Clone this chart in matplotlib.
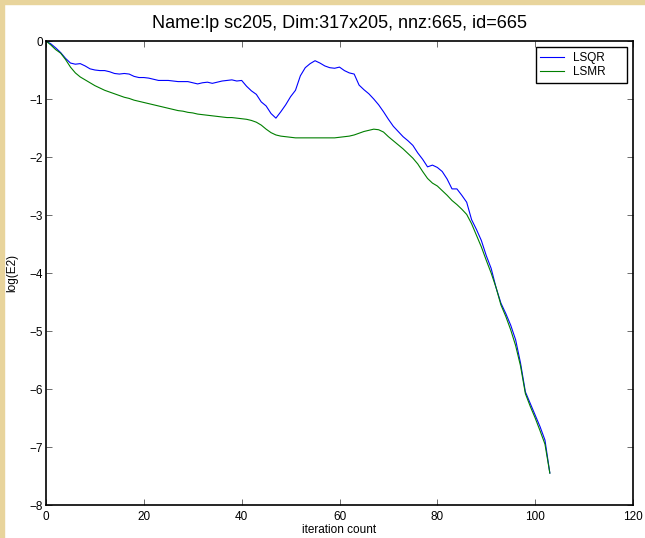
import matplotlib
matplotlib.use("Agg")
import matplotlib.pyplot as plt
from matplotlib.patches import Rectangle

plt.rcParams['font.family'] = ['Liberation Sans', 'DejaVu Sans']

# log10 of the error at each iteration
lsqr = [0, -0.05, -0.12, -0.20, -0.30, -0.38, -0.40, -0.39, -0.43, -0.48,
        -0.50, -0.51, -0.51, -0.53, -0.56, -0.57, -0.56, -0.57, -0.61, -0.63,
        -0.63, -0.64, -0.66, -0.68, -0.68, -0.68, -0.69, -0.70, -0.70, -0.70,
        -0.72, -0.74, -0.72, -0.71, -0.73, -0.71, -0.69, -0.68, -0.67, -0.69,
        -0.68, -0.78, -0.86, -0.92, -1.05, -1.12, -1.25, -1.33, -1.22, -1.10,
        -0.96, -0.85, -0.60, -0.46, -0.39, -0.34, -0.38, -0.43, -0.46, -0.47,
        -0.45, -0.51, -0.55, -0.57, -0.76, -0.84, -0.91, -1.00, -1.10, -1.22,
        -1.35, -1.47, -1.56, -1.65, -1.72, -1.80, -1.93, -2.04, -2.17, -2.14,
        -2.18, -2.25, -2.38, -2.55, -2.55, -2.66, -2.78, -3.08, -3.25, -3.44,
        -3.70, -3.92, -4.25, -4.52, -4.70, -4.90, -5.15, -5.55, -6.05, -6.25,
        -6.45, -6.65, -6.88, -7.45]
lsmr = [0, -0.07, -0.15, -0.21, -0.32, -0.45, -0.55, -0.62, -0.67, -0.72,
        -0.77, -0.81, -0.85, -0.88, -0.91, -0.94, -0.97, -0.99, -1.02, -1.04,
        -1.06, -1.08, -1.10, -1.12, -1.14, -1.16, -1.18, -1.20, -1.21, -1.23,
        -1.24, -1.26, -1.27, -1.28, -1.29, -1.30, -1.31, -1.32, -1.32, -1.33,
        -1.34, -1.35, -1.37, -1.40, -1.45, -1.52, -1.58, -1.62, -1.64, -1.65,
        -1.66, -1.67, -1.67, -1.67, -1.67, -1.67, -1.67, -1.67, -1.67, -1.67,
        -1.66, -1.65, -1.64, -1.62, -1.59, -1.56, -1.54, -1.52, -1.53, -1.57,
        -1.65, -1.72, -1.79, -1.86, -1.94, -2.02, -2.12, -2.25, -2.37, -2.45,
        -2.50, -2.58, -2.66, -2.75, -2.82, -2.90, -2.99, -3.15, -3.35, -3.55,
        -3.78, -4.00, -4.25, -4.55, -4.75, -4.98, -5.25, -5.60, -6.08, -6.30,
        -6.50, -6.72, -6.95, -7.45]
iters = list(range(len(lsqr)))

fig = plt.figure(figsize=(6.45, 5.38), dpi=100)
# tan frame along the left and top edges
fig.patches.append(Rectangle((0, 0), 3.5 / 645, 1, transform=fig.transFigure,
                             color='#e8d49c', zorder=0))
fig.patches.append(Rectangle((0, 1 - 4 / 538), 1, 4 / 538, transform=fig.transFigure,
                             color='#e8d49c', zorder=0))

ax = fig.add_axes([46 / 645, 33 / 538, 587 / 645, 464 / 538])
ax.plot(iters, lsqr, color='#0000ff', lw=0.8, label='LSQR')
ax.plot(iters, lsmr, color='#007f00', lw=0.8, label='LSMR')

ax.set_xlim(0, 120)
ax.set_ylim(-8, 0)
ax.set_xticks(range(0, 121, 20))
ax.set_yticks(range(-8, 1))
ax.tick_params(direction='in', top=True, right=True, length=4, width=0.6,
               labelsize=8.5, color='#555555')
ax.tick_params(axis='x', pad=4)
ax.tick_params(axis='y', pad=2)
for s in ax.spines.values():
    s.set_linewidth(1.2)

ax.set_title('Name:lp sc205, Dim:317x205, nnz:665, id=665', fontsize=13, pad=9)
ax.set_xlabel('iteration count', fontsize=8.5, labelpad=1)
ax.set_ylabel('log(E2)', fontsize=8.5, labelpad=8)

leg = ax.legend(loc='upper right', fontsize=8.5, fancybox=False, framealpha=1,
                edgecolor='black', handlelength=2.0, handletextpad=0.8,
                borderpad=0.4, labelspacing=0.2, borderaxespad=0,
                bbox_to_anchor=(581 / 587, 458 / 464))
leg.get_frame().set_linewidth(1.0)
for t in leg.get_texts():
    t.set_text(t.get_text() + '     ')

fig.savefig('out.png', dpi=100)
